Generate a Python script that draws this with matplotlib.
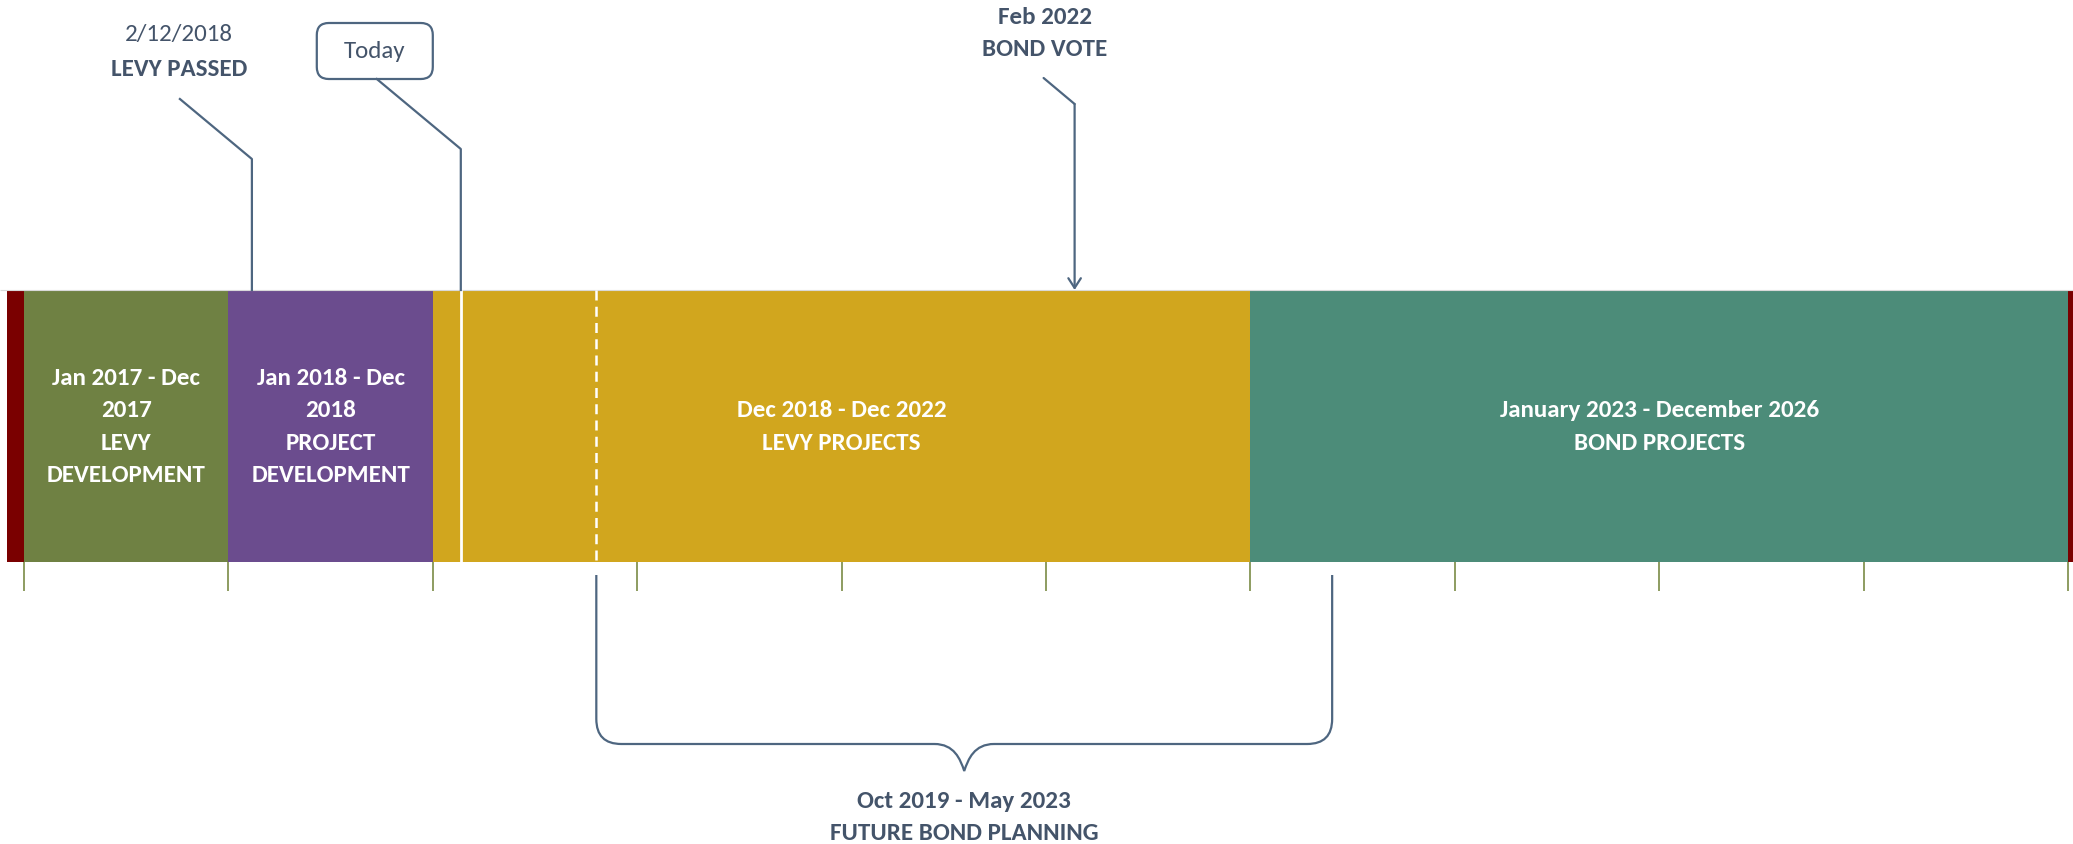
import matplotlib
matplotlib.use('Agg')
import matplotlib.pyplot as plt
import matplotlib.font_manager as fm
from matplotlib.patches import FancyBboxPatch, PathPatch
from matplotlib.path import Path

names = {f.name for f in fm.fontManager.ttflist}
FONT = next((f for f in ['Carlito', 'Lato', 'Open Sans'] if f in names), 'DejaVu Sans')
plt.rcParams['font.family'] = [FONT, 'DejaVu Sans']

# timeline segments (years)
seg_start = [2016.917, 2017.0, 2018.0, 2019.0, 2023.0, 2027.0]
seg_end = [2017.0, 2018.0, 2019.0, 2023.0, 2027.0, 2027.083]
seg_colors = ['#7a0000', '#6f8143', '#6b4c8e', '#d1a61e', '#4c8c79', '#7a0000']
seg_labels = ['',
              'Jan 2017 - Dec\n2017\nLEVY\nDEVELOPMENT',
              'Jan 2018 - Dec\n2018\nPROJECT\nDEVELOPMENT',
              'Dec 2018 - Dec 2022\nLEVY PROJECTS',
              'January 2023 - December 2026\nBOND PROJECTS',
              '']
tick_years = [2017, 2018, 2019, 2020, 2021, 2022, 2023, 2024, 2025, 2026, 2027]

levy_passed = 2018.115
today = 2019.137
bond_vote = 2022.14
planning_start = 2019.80
planning_end = 2023.40

W, H = 2073, 845
XMIN, XMAX = 2016.8826, 2027.0245
PPY = W / (XMAX - XMIN)  # pixels per year
TXT = '#44546a'
LINE = '#4e6680'
FS = 18

fig = plt.figure(figsize=(W / 100, H / 100), dpi=100)
ax = fig.add_axes([0, 0, 1, 1])
ax.set_xlim(XMIN, XMAX)
ax.set_ylim(H, 0)
ax.axis('off')

BAR_TOP, BAR_BOT = 291, 563
bar_y = (BAR_TOP + BAR_BOT) / 2
widths = [e - s for s, e in zip(seg_start, seg_end)]
ax.barh(bar_y, widths, left=seg_start, height=BAR_BOT - BAR_TOP, color=seg_colors,
        edgecolor='none')
ax.hlines(BAR_TOP, XMIN, XMAX, color='#d9d9d9', lw=0.8)
for s, e, lab in zip(seg_start, seg_end, seg_labels):
    lines = lab.split('\n') if lab else []
    n = len(lines)
    for i, line in enumerate(lines):
        ax.text((s + e) / 2, 427 + (i - (n - 1) / 2) * 32.5, line, ha='center', va='center',
                color='white', fontsize=FS, fontweight='bold')

# year ticks under the bar
ax.vlines(tick_years, BAR_BOT, 592, color='#7a8b45', lw=1.2)

# today line and planning start inside the bar
ax.vlines(today, BAR_TOP, BAR_BOT, color='white', lw=2)
ax.vlines(planning_start, BAR_TOP, BAR_BOT, color='white', lw=1.8, linestyles=(0, (4, 2.5)))

# levy passed callout
x = levy_passed
ax.plot([x - 72 / PPY, x, x], [100, 160, BAR_TOP], color=LINE, lw=1.6)
ax.text(x - 73 / PPY, 35, '2/12/2018', ha='center', va='center', color=TXT, fontsize=FS)
ax.text(x - 73 / PPY, 70, 'LEVY PASSED', ha='center', va='center', color=TXT,
        fontsize=FS, fontweight='bold')

# today callout
x = today
ax.plot([x - 84 / PPY, x, x], [80, 150, BAR_TOP], color=LINE, lw=1.6)
bw, bh, r = 116, 56, 12
box = FancyBboxPatch((x - 144 / PPY, 24), bw / PPY, bh,
                     boxstyle='round,pad=0,rounding_size=%f' % (r / PPY),
                     mutation_aspect=PPY, fc='white', ec=LINE, lw=1.6)
ax.add_patch(box)
ax.text(x - 86 / PPY, 51, 'Today', ha='center', va='center', color=TXT, fontsize=FS)

# bond vote callout
x = bond_vote
ax.plot([x - 31 / PPY, x], [79, 105], color=LINE, lw=1.6, solid_capstyle='round')
ax.annotate('', xy=(x, BAR_TOP), xytext=(x, 105),
            arrowprops=dict(arrowstyle='->,head_length=0.7,head_width=0.45',
                            color=LINE, lw=1.6, shrinkA=0, shrinkB=0))
ax.text(x - 30 / PPY, 18, 'Feb 2022', ha='center', va='center', color=TXT,
        fontsize=FS, fontweight='bold')
ax.text(x - 30 / PPY, 50, 'BOND VOTE', ha='center', va='center', color=TXT,
        fontsize=FS, fontweight='bold')

# brace for future bond planning
x0, x1 = planning_start, planning_end
xc = (x0 + x1) / 2
top, flat, tip, rr = 576, 745, 772, 25 / PPY
verts = [(x0, top), (x0, flat - 25), (x0, flat), (x0 + rr, flat),
         (xc - 30 / PPY, flat), (xc - 10 / PPY, flat), (xc - 4 / PPY, tip - 12), (xc, tip),
         (xc + 4 / PPY, tip - 12), (xc + 10 / PPY, flat), (xc + 30 / PPY, flat),
         (x1 - rr, flat), (x1, flat), (x1, flat - 25), (x1, top)]
codes = [Path.MOVETO, Path.LINETO, Path.CURVE3, Path.CURVE3,
         Path.LINETO, Path.CURVE4, Path.CURVE4, Path.CURVE4,
         Path.CURVE4, Path.CURVE4, Path.CURVE4,
         Path.LINETO, Path.CURVE3, Path.CURVE3, Path.LINETO]
ax.add_patch(PathPatch(Path(verts, codes), fc='none', ec=LINE, lw=1.6))
ax.text(xc, 802, 'Oct 2019 - May 2023', ha='center', va='center', color=TXT,
        fontsize=FS, fontweight='bold')
ax.text(xc, 834, 'FUTURE BOND PLANNING', ha='center', va='center', color=TXT,
        fontsize=FS, fontweight='bold')

fig.savefig('out.png', dpi=100, facecolor='white')
